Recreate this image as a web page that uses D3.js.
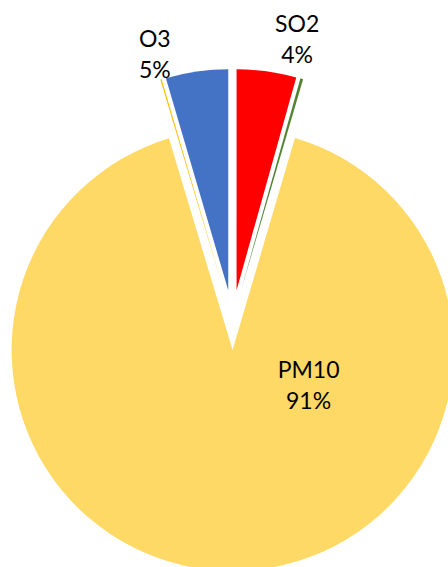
<!DOCTYPE html>
<html>
<head>
<meta charset="utf-8">
<script src="https://cdn.jsdelivr.net/npm/d3@7"></script>
<style>
  html, body { margin: 0; padding: 0; background: #fff; }
  svg { display: block; }
</style>
</head>
<body>
<svg id="chart" width="448" height="567"></svg>
<script>
// Data (percent shares, clockwise from 12 o'clock)
const categories = ["SO2", "NO2", "PM10", "CO", "O3"];
const values = [4.35, 0.2, 90.8, 0.1, 4.55];
const colors = ["#FF0000", "#548235", "#FFD966", "#FFC000", "#4472C4"];
const showLabel = [true, false, true, false, true];

const svg = d3.select("#chart");
const cx = 232.5, cy = 320, radius = 221, explode = 30;
const fontSize = 23, lineGap = 31;

const data = categories.map((c, i) => ({ name: c, value: values[i], color: colors[i], show: showLabel[i] }));
const pie = d3.pie().value(d => d.value).sort(null).startAngle(0).endAngle(2 * Math.PI);
const arcs = pie(data);
const arc = d3.arc().innerRadius(0).outerRadius(radius);

const total = d3.sum(values);

const g = svg.append("g").attr("transform", `translate(${cx},${cy})`);

arcs.forEach(a => {
  const mid = (a.startAngle + a.endAngle) / 2;
  const [ox, oy] = d3.pointRadial(mid, explode);
  a.ox = ox; a.oy = oy;
});

g.selectAll("path.slice")
  .data(arcs)
  .join("path")
  .attr("class", "slice")
  .attr("transform", d => `translate(${d.ox},${d.oy})`)
  .attr("d", arc)
  .attr("fill", d => d.data.color);

// Label placement (angle in degrees clockwise from top, radius from slice apex)
const labelPlace = {
  SO2: { angle: 13.2, r: 265 },
  PM10: { angle: 110.3, r: 81 },
  O3: { angle: -16.8, r: 254 }
};

const labels = g.selectAll("text.lbl")
  .data(arcs.filter(d => d.data.show))
  .join("text")
  .attr("class", "lbl")
  .attr("font-family", "Lato, 'Open Sans', sans-serif")
  .attr("font-size", fontSize)
  .attr("fill", "#000")
  .attr("text-anchor", "middle")
  .attr("transform", d => {
    const p = labelPlace[d.data.name];
    const [x, y] = d3.pointRadial(p.angle * Math.PI / 180, p.r);
    return `translate(${d.ox + x},${d.oy + y})`;
  });

labels.append("tspan").attr("x", 0).attr("y", 0).text(d => d.data.name);
labels.append("tspan").attr("x", 0).attr("y", lineGap)
  .text(d => Math.round(d.data.value / total * 100) + "%");
</script>
</body>
</html>
